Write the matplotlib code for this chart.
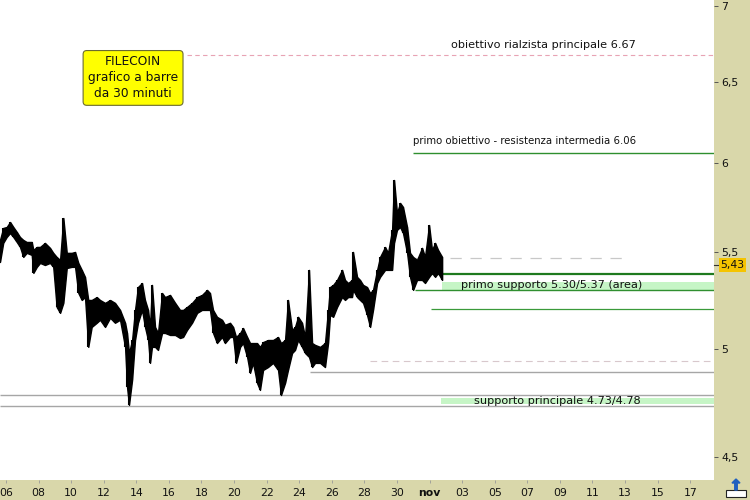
import matplotlib
matplotlib.use('Agg')
import matplotlib.pyplot as plt
from matplotlib.ticker import FixedLocator, NullLocator, FixedFormatter
from matplotlib.patches import Rectangle, FancyArrow
import matplotlib.transforms as mtransforms

# ---------------- data (October day number; November days = 31 + d) ----------------
day = [5.63, 5.83, 6.04, 6.25, 6.45, 6.66, 6.86, 7.06, 7.27, 7.58, 7.68, 7.89, 8.09, 8.39,
       8.70, 8.90, 9.11, 9.32, 9.52, 9.73, 10.03, 10.24, 10.44, 10.65, 10.85, 11.05, 11.26,
       11.57, 11.77, 12.08, 12.39, 12.69, 13.00, 13.31, 13.43, 13.55, 13.74, 13.92, 14.10,
       14.35, 14.53, 14.72, 14.84, 14.96, 15.15, 15.33, 15.58, 15.76, 16.07, 16.38, 16.68,
       16.87, 17.11, 17.42, 17.73, 18.03, 18.34, 18.52, 18.71, 18.95, 19.26, 19.44, 19.75,
       19.94, 20.12, 20.37, 20.55, 20.80, 20.98, 21.16, 21.41, 21.59, 21.78, 22.08, 22.39,
       22.70, 22.88, 23.13, 23.31, 23.56, 23.74, 23.93, 24.17, 24.36, 24.60, 24.79, 24.97,
       25.28, 25.58, 25.77, 25.89, 26.08, 26.32, 26.63, 26.81, 27.00, 27.24, 27.30, 27.55,
       27.73, 27.92, 28.16, 28.35, 28.53, 28.78, 28.96, 29.27, 29.45, 29.70, 29.82, 30.00,
       30.19, 30.37, 30.62, 30.80, 30.99, 31.23, 31.54, 31.72, 31.97, 32.15, 32.34, 32.52,
       32.77]
high = [5.565, 5.631, 5.636, 5.664, 5.636, 5.609, 5.581, 5.565, 5.554, 5.554, 5.511, 5.527,
        5.527, 5.549, 5.522, 5.495, 5.473, 5.457, 5.686, 5.495, 5.495, 5.500, 5.441, 5.404,
        5.367, 5.247, 5.247, 5.262, 5.247, 5.232, 5.247, 5.232, 5.196, 5.131, 5.080, 4.981,
        5.045, 5.196, 5.314, 5.335, 5.247, 5.196, 5.110, 5.325, 5.110, 5.080, 5.283, 5.262,
        5.273, 5.232, 5.196, 5.196, 5.211, 5.232, 5.262, 5.273, 5.299, 5.283, 5.196, 5.161,
        5.146, 5.121, 5.131, 5.110, 5.060, 5.080, 5.105, 5.060, 5.030, 5.030, 5.030, 5.011,
        5.035, 5.045, 5.045, 5.060, 5.030, 5.045, 5.247, 5.095, 5.110, 5.161, 5.131, 5.060,
        5.404, 5.030, 5.021, 5.011, 5.030, 5.196, 5.314, 5.325, 5.351, 5.404, 5.351, 5.335,
        5.351, 5.500, 5.367, 5.351, 5.325, 5.314, 5.283, 5.299, 5.404, 5.473, 5.527, 5.495,
        5.620, 5.902, 5.714, 5.771, 5.748, 5.636, 5.495, 5.473, 5.457, 5.522, 5.473, 5.647,
        5.511, 5.549, 5.511, 5.473]
low = [5.446, 5.549, 5.581, 5.603, 5.581, 5.554, 5.527, 5.473, 5.495, 5.484, 5.388, 5.420,
       5.441, 5.430, 5.441, 5.420, 5.211, 5.181, 5.232, 5.414, 5.420, 5.420, 5.283, 5.247,
       5.262, 5.011, 5.110, 5.131, 5.146, 5.110, 5.156, 5.131, 5.146, 5.011, 4.818, 4.734,
       4.851, 5.045, 5.131, 5.196, 5.110, 5.045, 4.933, 5.011, 5.011, 4.996, 5.080, 5.080,
       5.070, 5.070, 5.055, 5.060, 5.095, 5.131, 5.181, 5.196, 5.196, 5.196, 5.080, 5.030,
       5.060, 5.030, 5.060, 5.060, 4.933, 5.011, 5.030, 4.962, 4.885, 4.933, 4.837, 4.804,
       4.899, 4.913, 4.933, 4.899, 4.780, 4.837, 4.899, 4.981, 4.996, 5.045, 5.011, 4.981,
       4.962, 4.913, 4.933, 4.933, 4.913, 5.030, 5.171, 5.161, 5.211, 5.262, 5.247, 5.262,
       5.262, 5.299, 5.262, 5.247, 5.232, 5.171, 5.110, 5.196, 5.335, 5.367, 5.404, 5.404,
       5.404, 5.549, 5.620, 5.636, 5.603, 5.495, 5.367, 5.299, 5.351, 5.351, 5.335, 5.367,
       5.388, 5.367, 5.388, 5.351]
last_price = 5.43
last_label = '5,43'

ytick_vals = [4.5, 5, 5.5, 6, 6.5, 7]
ytick_labels = ['4,5', '5', '5,5', '6', '6,5', '7']
xtick_days = [6, 8, 10, 12, 14, 16, 18, 20, 22, 24, 26, 28, 30, 32, 34, 36, 38, 40, 42, 44, 46, 48]
xtick_labels = ['06', '08', '10', '12', '14', '16', '18', '20', '22', '24', '26', '28', '30',
                'nov', '03', '05', '07', '09', '11', '13', '15', '17']

# levels: value, start day, end day (None = right edge)
level_values = [6.67, 6.06, 5.47, 5.38, 5.30, 5.20, 4.94, 4.89, 4.78, 4.73]
level_starts = [17.11, 30.98, 30.80, 31.11, 31.11, 32.09, 28.35, 24.66, 5.63, 5.63]
level_ends = [None, None, 43.88, None, None, None, None, None, None, None]
level_colors = ['#e8a3b4', '#2f8f2f', '#c8c8c8', '#1e7a1e', '#2f8f2f', '#3a9a3a',
                '#d8c8cc', '#a6a6a6', '#a6a6a6', '#a6a6a6']
level_styles = [(0, (4, 3)), '-', (0, (9, 7)), '-', '-', '-', (0, (6, 4)), '-', '-', '-']
level_widths = [0.8, 1.0, 0.9, 1.6, 1.0, 0.9, 0.8, 1.0, 1.0, 1.0]

zone_lows = [5.30, 4.74]
zone_highs = [5.34, 4.767]
zone_starts = [32.77, 32.70]

notes = ['obiettivo rialzista principale 6.67',
         'primo obiettivo - resistenza intermedia 6.06',
         'primo supporto 5.30/5.37 (area)',
         'supporto principale 4.73/4.78']
note_days = [38.97, 37.86, 39.52, 39.82]
note_prices = [6.737, 6.132, 5.322, 4.754]
note_sizes = [8.1, 7.3, 8.1, 8.1]

title_text = 'FILECOIN\ngrafico a barre\nda 30 minuti'
title_day = 13.80
title_price = 6.523

# ---------------- figure ----------------
panel = '#d9d7aa'
fig = plt.figure(figsize=(7.5, 5), dpi=100)
fig.patch.set_facecolor(panel)
ax = fig.add_axes([0, 20 / 500, 714 / 750, 480 / 500])
ax.set_facecolor('white')
ax.set_yscale('log')
xmin, xmax = 5.632, 49.46
ax.set_xlim(xmin, xmax)
ax.set_ylim(4.398, 7.041)

for s in ax.spines.values():
    s.set_visible(False)

# horizontal levels
for v, s0, e0, c, ls, lw in zip(level_values, level_starts, level_ends, level_colors,
                                level_styles, level_widths):
    ax.hlines(v, s0, xmax if e0 is None else e0, colors=c, linestyles=ls, linewidth=lw, zorder=2)

# zones
for zl, zh, zs in zip(zone_lows, zone_highs, zone_starts):
    ax.fill_between([zs, xmax], zl, zh, color='#c6f5c6', linewidth=0, zorder=1)

# price bars
ax.fill_between(day, low, high, color='black', linewidth=1.0, zorder=3)
ax.vlines(day, low, high, colors='black', linewidth=1.5, zorder=3)

# annotations
for t, d, p, fs in zip(notes, note_days, note_prices, note_sizes):
    ax.text(d, p, t, ha='center', va='center', fontsize=fs, color='#111111', zorder=4)

ax.text(title_day, title_price, title_text, ha='center', va='center', fontsize=8.8,
        linespacing=1.3, color='#111111', zorder=5,
        bbox=dict(boxstyle='round,pad=0.4,rounding_size=0.3', facecolor='#ffff00',
                  edgecolor='#6b6b30', linewidth=0.8))

# axes ticks
ax.yaxis.tick_right()
ax.yaxis.set_major_locator(FixedLocator(ytick_vals))
ax.yaxis.set_major_formatter(FixedFormatter(ytick_labels))
ax.yaxis.set_minor_locator(NullLocator())
ax.tick_params(axis='y', direction='out', length=3, width=0.7, color='#555555',
               labelsize=7.8, labelcolor='#111111', pad=2)
ax.set_xticks(xtick_days)
ax.set_xticklabels(xtick_labels)
ax.xaxis.set_minor_locator(NullLocator())
ax.tick_params(axis='x', direction='out', length=2, width=0.6, color='#999999',
               labelsize=7.8, labelcolor='#111111', pad=4)
for lbl in ax.get_xticklabels():
    if lbl.get_text() == 'nov':
        lbl.set_fontweight('bold')

# last price marker
trans = mtransforms.blended_transform_factory(ax.transAxes, ax.transData)
ax.plot([1.0, 1.006], [last_price, last_price], transform=trans, color='#333333',
        lw=0.8, clip_on=False)
ax.text(1.009, last_price, last_label, transform=trans, ha='left', va='center', fontsize=7.8,
        color='#111111', clip_on=False,
        bbox=dict(boxstyle='square,pad=0.15', facecolor='#f5c400', edgecolor='none'))

# bottom-right icon
fig.patches.append(Rectangle((726 / 750, 3 / 500), 20 / 750, 7 / 500, transform=fig.transFigure,
                             facecolor='white', edgecolor='#222222', linewidth=0.8))
fig.patches.append(FancyArrow(736 / 750, 10 / 500, 0, 7 / 500, width=2.5 / 750,
                              head_width=8 / 750, head_length=4 / 500,
                              transform=fig.transFigure, color='#1f5fbf'))

fig.savefig('out.png', dpi=100, facecolor=panel)
